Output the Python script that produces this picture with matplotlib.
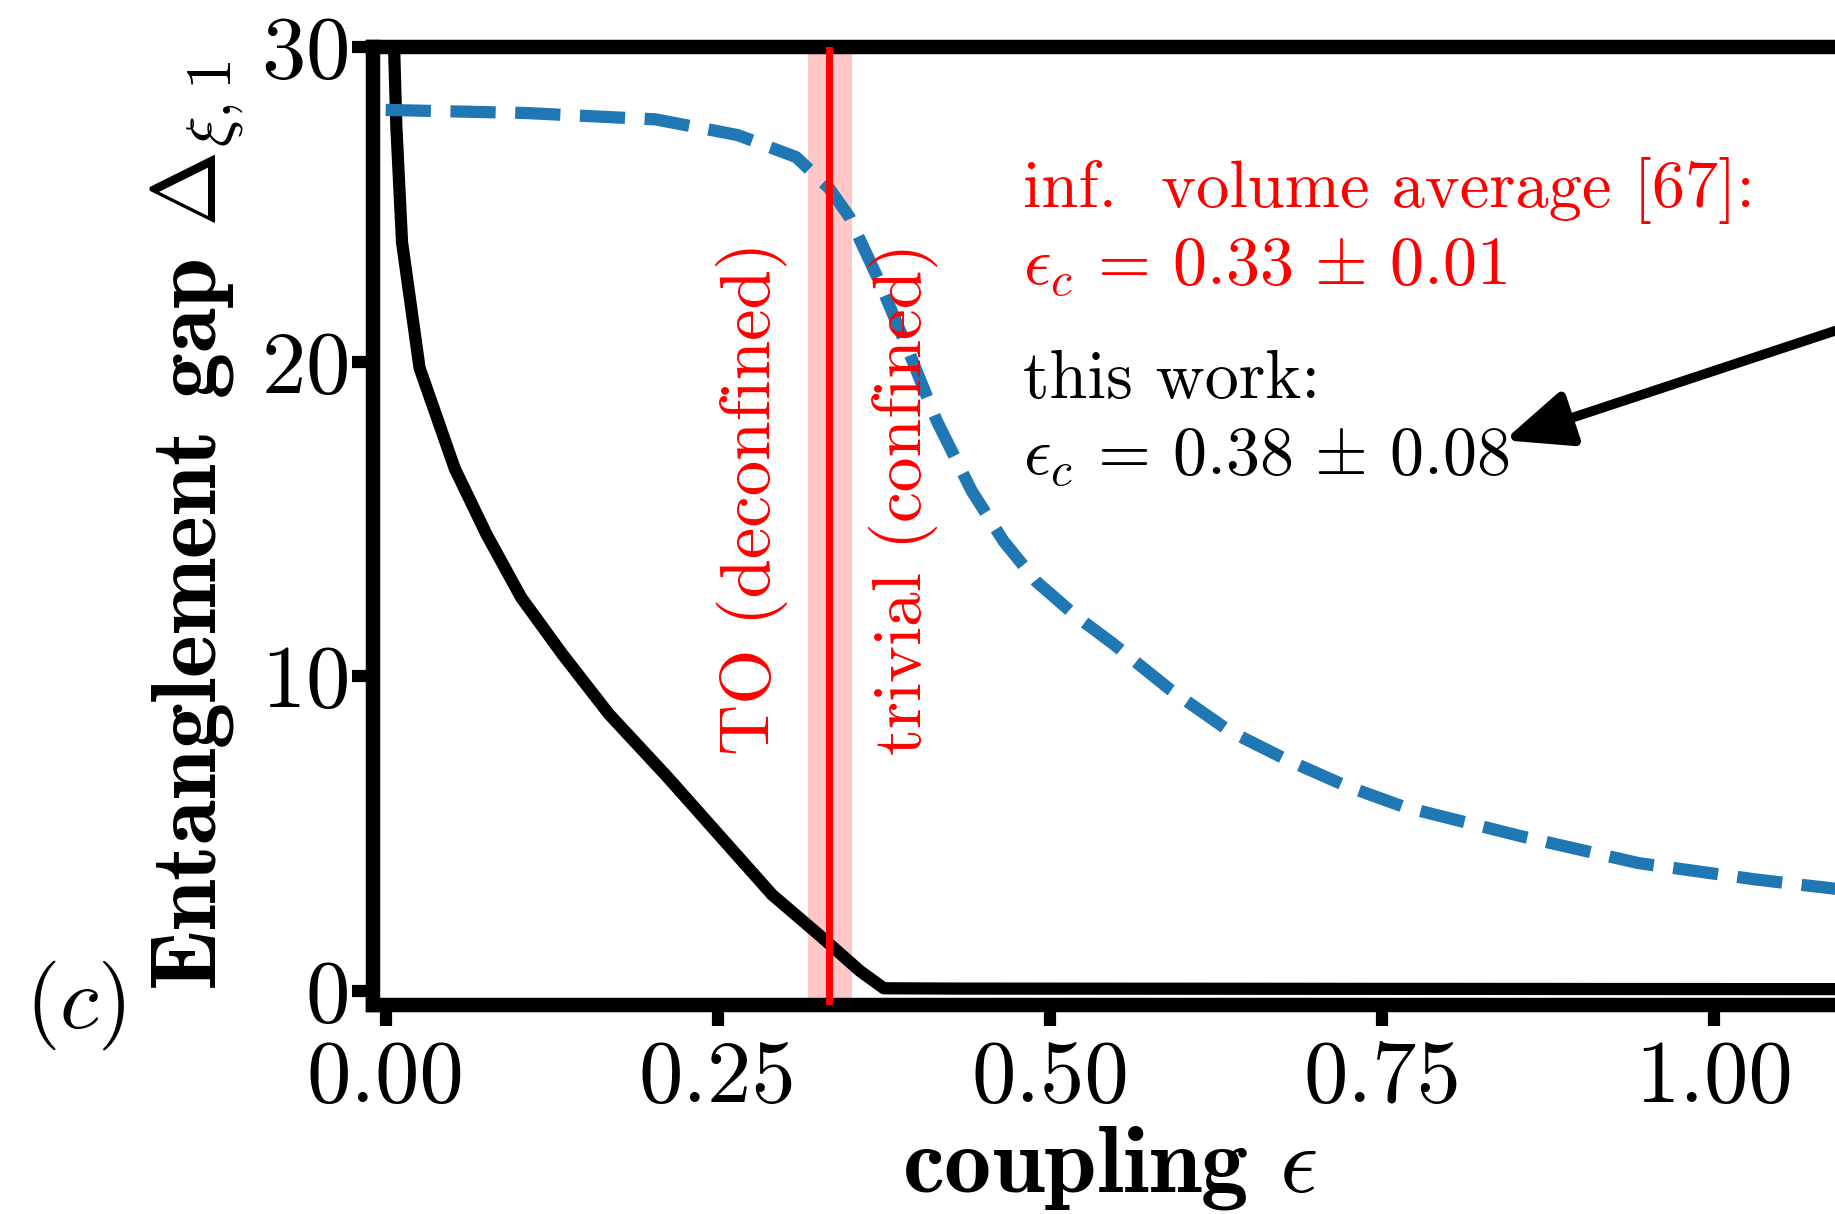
import numpy as np
import matplotlib
matplotlib.use("Agg")
import matplotlib.pyplot as plt

plt.rcParams['mathtext.fontset'] = 'cm'
plt.rcParams['font.family'] = 'cmr10'
plt.rcParams['axes.formatter.use_mathtext'] = True
plt.rcParams['axes.unicode_minus'] = False

# entanglement gap vs coupling
eps_gap = [0.005, 0.008, 0.0123, 0.0255, 0.052, 0.076, 0.102, 0.133, 0.168, 0.212,
           0.252, 0.291, 0.327, 0.357, 0.375, 0.43, 1.2]
gap = [32.0, 27.5, 23.8, 19.8, 16.6, 14.5, 12.5, 10.7, 8.8, 6.8,
       4.9, 3.05, 1.75, 0.63, 0.08, 0.07, 0.05]

# second curve (dashed)
eps_dash = [0.0, 0.106, 0.203, 0.265, 0.309, 0.334, 0.349, 0.371, 0.393, 0.415,
            0.441, 0.465, 0.49, 0.52, 0.547, 0.591, 0.635, 0.679, 0.723, 0.767, 0.855,
            0.943, 1.031, 1.1]
dash = [28.0, 27.9, 27.7, 27.2, 26.5, 25.5, 24.6, 22.6, 20.4, 18.1,
        15.9, 14.3, 13.0, 11.9, 11.05, 9.56, 8.26, 7.33, 6.51, 5.84, 4.91,
        4.06, 3.54, 3.2]

eps_c = 0.334
eps_band = (0.318, 0.351)

fig = plt.figure(figsize=(9.175, 6.07), dpi=200)
ax = fig.add_axes([0.2033, 0.1722, 0.8032, 0.7891])

ax.axvspan(eps_band[0], eps_band[1], color='red', alpha=0.22, lw=0, zorder=1)
ax.plot(eps_gap, gap, color='k', lw=4.4, zorder=2, solid_capstyle='butt')
ax.plot(eps_dash, dash, '--', color='#1f77b4', lw=4.4, zorder=2)
ax.axvline(eps_c, color='red', lw=2.5, zorder=3)

ax.text(0.276, 7.5, 'TO (deconfined)', rotation=90, color='red', fontsize=25.5,
        ha='center', va='bottom')
ax.text(0.39, 7.5, 'trivial (confined)', rotation=90, color='red', fontsize=25,
        ha='center', va='bottom')

tsize = 24.5
ax.text(0.48, 24.9, 'inf.  volume average [67]:', color='red', fontsize=tsize - 0.6)
ax.text(0.48, 22.45, r'$\epsilon_c\,=\,0.33\,\pm\,0.01$', color='red', fontsize=tsize)
ax.text(0.48, 18.85, 'this work:', color='k', fontsize=tsize)
ax.text(0.48, 16.4, r'$\epsilon_c\,=\,0.38\,\pm\,0.08$', color='k', fontsize=tsize)

ax.annotate('', xy=(0.842, 17.5), xytext=(1.2, 22.5),
            arrowprops=dict(arrowstyle='-|>,head_length=2.0,head_width=0.85',
                            color='k', lw=3.5, shrinkA=0, shrinkB=0),
            annotation_clip=False)

ax.set_xlim(-0.0095, 1.1)
ax.set_ylim(-0.45, 30)
ax.set_xticks([0, 0.25, 0.5, 0.75, 1.0])
ax.set_xticklabels(['0.00', '0.25', '0.50', '0.75', '1.00'])
ax.set_yticks([0, 10, 20, 30])

for s in ax.spines.values():
    s.set_linewidth(5.2)
ax.tick_params(direction='out', length=7.5, width=4.4, labelsize=32, pad=5)
ax.tick_params(axis='y', pad=1.5)

ax.set_xlabel(r'coupling $\epsilon$', fontsize=34, fontfamily='cmb10')
ax.set_ylabel(r'Entanglement gap $\Delta_{\xi,1}$', fontsize=33, fontfamily='cmb10')
ax.xaxis.set_label_coords(0.5, -0.124)
ax.yaxis.set_label_coords(-0.086, 0.5)

fig.text(0.041, 0.172, r'$(c)$', fontsize=32, ha='center', va='center')

fig.savefig('out.png', dpi=200)
